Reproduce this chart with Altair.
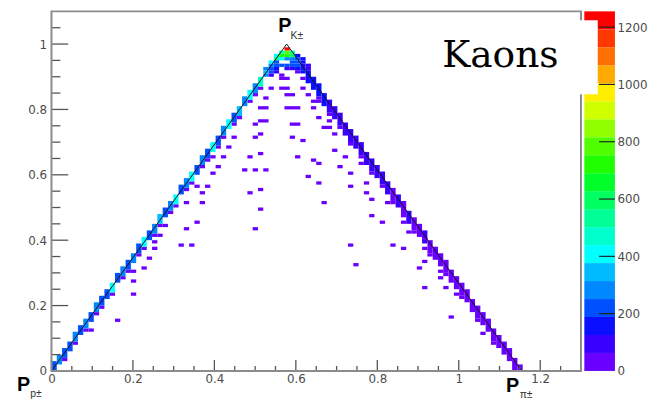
import altair as alt
import pandas as pd

# ---------------- values ----------------
X_BIN = 0.013          # histogram bin width in x
Y_BIN = 0.01           # histogram bin height in y
Z_MAX = 1255           # top of the colour axis
DOT_N = 40             # count of the isolated interior cells
FRINGE_N = 45          # count of the faint cells beside the edges

# left edge of the triangle (x-bin, first / last y-bin, counts)
left_bx = [0, 1, 2, 3, 4, 5, 6, 7, 8, 9, 10, 11, 12, 13, 14, 15, 16, 17, 18, 19,
           20, 21, 22, 23, 24, 25, 26, 27, 28, 29, 30, 31, 32, 33, 34, 35, 36, 37, 38, 39]
left_lo = [0, 2, 4, 6, 9, 11, 13, 15, 18, 20, 22, 24, 27, 29, 31, 33, 36, 38, 40, 42,
           45, 47, 49, 51, 54, 56, 58, 60, 63, 65, 67, 69, 72, 74, 76, 78, 81, 83, 85, 87]
left_hi = [2, 4, 6, 8, 11, 13, 15, 17, 20, 22, 24, 26, 29, 31, 33, 35, 38, 40, 42, 44,
           47, 49, 51, 53, 56, 58, 60, 62, 65, 67, 69, 71, 74, 76, 78, 80, 83, 85, 87, 89]
left_n = [230, 260, 210, 250, 280, 200, 260, 230, 290, 210,
          250, 380, 220, 270, 200, 300, 240, 400, 220, 260,
          320, 230, 280, 410, 220, 300, 420, 240, 310, 250,
          400, 230, 300, 420, 250, 330, 280, 430, 300, 440]
left_fringe_bx = [2, 4, 6, 8, 9, 11, 13, 14, 16, 17, 19, 20, 22, 23, 25, 26, 28, 29, 31, 32,
                  34, 35, 37, 38, 39]
left_fringe_by = [3, 8, 12, 17, 19, 23, 28, 30, 35, 37, 41, 44, 48, 50, 55, 57, 62, 64, 68, 71,
                  75, 77, 82, 84, 86]

# right edge of the triangle
right_bx = [48, 49, 50, 51, 52, 53, 54, 55, 56, 57, 58, 59, 60, 61, 62, 63, 64, 65, 66, 67,
            68, 69, 70, 71, 72, 73, 74, 75, 76, 77, 78, 79, 80, 81, 82, 83, 84, 85, 86, 87, 88]
right_lo = [88, 86, 84, 81, 79, 77, 75, 72, 70, 68, 66, 63, 61, 59, 57, 54, 52, 50, 48, 45,
            43, 41, 39, 36, 34, 32, 30, 27, 25, 23, 21, 18, 16, 14, 12, 9, 7, 5, 3, 0, 0]
right_hi = [91, 89, 87, 84, 82, 80, 78, 75, 73, 71, 69, 66, 64, 62, 60, 57, 55, 53, 51, 48,
            46, 44, 42, 39, 37, 35, 33, 30, 28, 26, 24, 21, 19, 17, 15, 12, 10, 8, 6, 3, 1]
right_n = [150, 140, 160, 130, 120, 110, 100, 95, 90, 80,
           85, 75, 70, 80, 65, 70, 60, 70, 55, 65,
           60, 55, 65, 50, 60, 55, 50, 60, 45, 55,
           50, 45, 55, 50, 45, 50, 40, 45, 40, 45, 35]
right_fringe_bx = [50, 52, 54, 56, 58, 60, 62, 64, 66, 68, 71, 74, 77, 80, 83]
right_fringe_by = [83, 78, 74, 69, 65, 60, 56, 51, 47, 42, 35, 29, 22, 15, 8]

# cells around the kaon apex
apex_bx = [44, 43, 44, 45, 42, 43, 44, 45, 46, 42, 43, 44, 45, 46, 47, 41, 42, 45, 46, 47,
           41, 42, 43, 44, 45, 46, 47, 48, 40, 41, 42, 44, 45, 46, 47, 48, 40, 41, 42, 46, 47,
           40, 41, 43]
apex_by = [98, 97, 97, 97, 96, 96, 96, 96, 96, 95, 95, 95, 95, 95, 95, 94, 94, 94, 94, 94,
           93, 93, 93, 93, 93, 93, 93, 93, 92, 92, 92, 92, 92, 92, 92, 92, 91, 91, 91, 91, 91,
           90, 90, 90]
apex_n = [1230, 460, 760, 540, 400, 700, 730, 620, 180, 560, 380, 260, 300, 220, 150,
          380, 230, 220, 200, 160, 300, 220, 210, 240, 220, 190, 150, 120,
          280, 220, 130, 70, 90, 160, 170, 110, 330, 200, 80, 60, 130, 260, 90, 50]

# isolated cells inside the triangle (x-bin, y-bin, width in bins)
dot_bx = [43, 47, 41, 43, 47, 44, 48, 40, 49, 39, 44, 49, 50, 39, 52, 38, 45, 51, 39, 53,
          34, 38, 45, 47, 56, 33, 53, 39, 55, 37, 46, 30, 32, 49, 50, 58, 31, 54, 36, 38,
          40, 30, 56, 48, 50, 59, 56, 27, 29, 39, 37, 28, 59, 60, 25, 28, 51, 63, 39, 27,
          21, 60, 62, 66, 25, 38, 20, 67, 70, 26, 24, 64, 56, 19, 66, 70, 18, 70, 17, 57,
          69, 15, 73, 73, 15, 70, 74, 15, 76, 12, 75, 7, 81, 19]
dot_by = [89, 89, 86, 86, 86, 84, 84, 83, 82, 80, 80, 80, 77, 76, 76, 75, 75, 74, 72, 72,
          71, 71, 71, 70, 69, 68, 67, 66, 65, 65, 65, 65, 65, 64, 63, 63, 62, 62, 61, 61,
          61, 60, 60, 59, 57, 57, 56, 56, 56, 55, 54, 54, 54, 52, 51, 51, 51, 51, 49, 45,
          44, 47, 45, 45, 43, 43, 41, 42, 40, 38, 38, 38, 38, 37, 37, 37, 34, 33, 31, 32,
          31, 30, 30, 28, 27, 25, 25, 23, 23, 15, 16, 12, 11, 39]
dot_w = [2, 1, 1, 2, 1, 2, 1, 1, 2, 2, 3, 1, 1, 2, 1, 1, 2, 2, 1, 1,
         1, 1, 1, 1, 1, 1, 1, 1, 1, 1, 1, 1, 1, 1, 1, 1, 1, 1, 1, 1,
         1, 1, 1, 1, 1, 1, 1, 1, 1, 1, 1, 1, 1, 1, 1, 1, 1, 1, 1, 1,
         1, 1, 1, 1, 1, 1, 1, 1, 1, 1, 1, 1, 1, 1, 1, 1, 1, 1, 1, 1,
         1, 1, 1, 1, 1, 1, 1, 1, 1, 1, 1, 1, 1, 1]

# kinematic triangle drawn over the histogram (P_p, P_K, P_pi corners)
tri_x = [0.0, 0.5774, 1.1547]
tri_y = [0.0, 1.0, 0.0]

# axis ticks and colour-bar labels
x_major = [0.0, 0.2, 0.4, 0.6, 0.8, 1.0, 1.2]
x_minor = [0.05, 0.1, 0.15, 0.25, 0.3, 0.35, 0.45, 0.5, 0.55, 0.65, 0.7, 0.75,
           0.85, 0.9, 0.95, 1.05, 1.1, 1.15, 1.25]
y_major = [0.0, 0.2, 0.4, 0.6, 0.8, 1.0]
y_minor = [0.05, 0.1, 0.15, 0.25, 0.3, 0.35, 0.45, 0.5, 0.55, 0.65, 0.7, 0.75,
           0.85, 0.9, 0.95, 1.05]
cbar_labels = [0, 200, 400, 600, 800, 1000, 1200]
cbar_ticks = [200, 400, 600, 800, 1000, 1200]

PALETTE = ["#6a00ff", "#3a00ff", "#0a10ff", "#0050ff", "#0088ff", "#00bbff", "#00ffff",
           "#00ffcc", "#00ff96", "#00ff60", "#00ff28", "#20ff00", "#50ff00", "#90ff00",
           "#d0ff00", "#ffee00", "#ffaa00", "#ff7000", "#ff3800", "#ff0000"]

# ---------------- tables for the library ----------------
rows = []
def cell(bx, by_lo, by_hi, n, w=1):
    rows.append(dict(x0=bx * X_BIN, x1=(bx + w) * X_BIN,
                     y0=by_lo * Y_BIN, y1=(by_hi + 1) * Y_BIN, n=n))

for bx, by in zip(left_fringe_bx, left_fringe_by):
    cell(bx, by, by, FRINGE_N)
for bx, by in zip(right_fringe_bx, right_fringe_by):
    cell(bx, by, by, FRINGE_N)
for bx, lo, hi, n in zip(left_bx, left_lo, left_hi, left_n):
    cell(bx, lo, hi, n)
for bx, lo, hi, n in zip(right_bx, right_lo, right_hi, right_n):
    cell(bx, lo, hi, n)
for bx, by, w in zip(dot_bx, dot_by, dot_w):
    cell(bx, by, by, DOT_N, w)
for bx, by, n in zip(apex_bx, apex_by, apex_n):
    cell(bx, by, by, n)
cells = pd.DataFrame(rows)

tri = pd.DataFrame({"x": tri_x, "y": tri_y})
band = Z_MAX / len(PALETTE)
cbar = pd.DataFrame({
    "lo": [k * band for k in range(len(PALETTE))],
    "hi": [(k + 1) * band for k in range(len(PALETTE))],
    "mid": [(k + 0.5) * band for k in range(len(PALETTE))],
})
one = pd.DataFrame({"a": [0]})

# ---------------- chart ----------------
W, H = 536, 364
LABEL = dict(labelFont="DejaVu Sans", labelFontSize=12, labelColor="#4a4a4a",
             labelFlush=False, labelOverlap=False, ticks=False, tickSize=0,
             domain=False, grid=False, title=None)
AX_X = alt.Axis(values=x_major, format="~g", labelPadding=3, **LABEL)
AX_Y = alt.Axis(values=y_major, format="~g", labelPadding=5, **LABEL)
AX_CB = alt.Axis(orient="right", offset=34.4, values=cbar_labels, format="d",
                 labelPadding=2, **LABEL)

xs = alt.Scale(domain=[0, 1.3], nice=False, zero=False)
ys = alt.Scale(domain=[0, 1.1], nice=False, zero=False)
cbs = alt.Scale(domain=[0, Z_MAX], nice=False, zero=False)
cs = alt.Scale(type="quantize", domain=[0, Z_MAX], range=PALETTE)

heat = alt.Chart(cells).mark_rect(strokeWidth=0).encode(
    x=alt.X("x0:Q", scale=xs, axis=AX_X), x2="x1:Q",
    y=alt.Y("y0:Q", scale=ys, axis=AX_Y), y2="y1:Q",
    color=alt.Color("n:Q", scale=cs, legend=None),
)

tri_line = alt.Chart(tri).mark_line(color="#111111", strokeWidth=1).encode(
    x=alt.X("x:Q", scale=xs, axis=AX_X), y=alt.Y("y:Q", scale=ys, axis=AX_Y))

def xticks(vals, length):
    return alt.Chart(pd.DataFrame({"v": vals})).mark_rule(color="#555555", strokeWidth=1.3).encode(
        x=alt.X("v:Q", scale=xs, axis=AX_X), y=alt.value(H), y2=alt.value(H - length))

def yticks(vals, length):
    return alt.Chart(pd.DataFrame({"v": vals})).mark_rule(color="#555555", strokeWidth=1.3).encode(
        y=alt.Y("v:Q", scale=ys, axis=AX_Y), x=alt.value(0), x2=alt.value(length))

frame = alt.Chart(one).mark_rect(fillOpacity=0, stroke="#8c8c8c", strokeWidth=2).encode(
    x=alt.value(0), x2=alt.value(W), y=alt.value(0), y2=alt.value(H))

def label(s, x, y, size, font="Liberation Sans", weight="normal", color="#000000"):
    return alt.Chart(one).mark_text(text=s, align="left", baseline="alphabetic",
                                    font=font, fontSize=size, fontWeight=weight,
                                    color=color).encode(x=alt.value(x), y=alt.value(y))

main = alt.layer(
    heat, tri_line,
    xticks(x_major, 11), xticks(x_minor, 5), yticks(y_major, 17), yticks(y_minor, 9),
    frame,
    label("P", 229.5, 20.5, 20, weight="bold"), label("K±", 242, 28, 10.5, color="#333333"),
    label("P", -35, 384, 20, weight="bold"), label("p±", -21.5, 390, 10.5, color="#333333"),
    label("P", 460, 385, 20, weight="bold"), label("π±", 474, 391, 10.5, color="#333333"),
)

cb_rect = alt.Chart(cbar).mark_rect(strokeWidth=0).encode(
    x=alt.value(539.4), x2=alt.value(570.4),
    y=alt.Y("lo:Q", scale=cbs, axis=AX_CB), y2="hi:Q",
    color=alt.Color("mid:Q", scale=cs, legend=None),
)
cb_ticks = alt.Chart(pd.DataFrame({"v": cbar_ticks})).mark_rule(color="#222222", strokeWidth=1.2).encode(
    y=alt.Y("v:Q", scale=cbs, axis=AX_CB), x=alt.value(554.4), x2=alt.value(570.4))
box = alt.Chart(one).mark_rect(fill="#ffffff", strokeWidth=0).encode(
    x=alt.value(380), x2=alt.value(553), y=alt.value(9), y2=alt.value(84))
kaons = label("Kaons", 395.5, 56, 38, font="DejaVu Serif")

side = alt.layer(cb_rect, cb_ticks, box, kaons)

chart = alt.layer(main, side).resolve_scale(y="independent").properties(
    width=W, height=H,
    autosize=alt.AutoSizeParams(type="none"),
    padding={"left": 44, "top": 1, "right": 79, "bottom": 27},
).configure_view(strokeWidth=0)

chart.save("out.html", embed_options={"renderer": "svg", "actions": False})
